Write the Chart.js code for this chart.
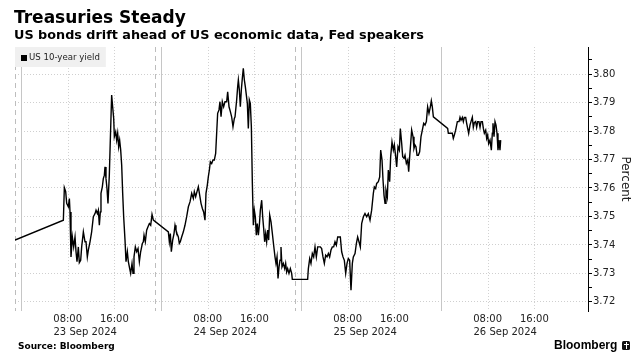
<!DOCTYPE html>
<html><head><meta charset="utf-8">
<script src="https://cdn.jsdelivr.net/npm/chart.js@4.4.1/dist/chart.umd.min.js"></script>
<style>
html,body{margin:0;padding:0;background:#fff;}
#wrap{position:relative;width:639px;height:364px;overflow:hidden;font-family:"DejaVu Sans",sans-serif;color:#000;}
canvas{position:absolute;left:0;top:0;}
.t{position:absolute;white-space:nowrap;}
#logo{position:absolute;left:622px;top:341px;width:8px;height:9px;background:#111;border-radius:1.5px;}
#logo i{position:absolute;background:#fff;}
</style></head><body>
<div id="wrap">
<canvas id="c" width="639" height="364"></canvas>
<div class="t" style="left:14px;top:9px;font-size:17px;line-height:17px;font-weight:bold;">Treasuries Steady</div>
<div class="t" style="left:14px;top:28px;font-size:12.8px;line-height:13px;font-weight:bold;">US bonds drift ahead of US economic data, Fed speakers</div>
<div class="t" style="left:18px;top:342px;font-size:9px;line-height:9px;font-weight:bold;">Source: Bloomberg</div>
<div class="t" style="left:554px;top:339px;font-family:'Liberation Sans',Arial,sans-serif;font-size:12px;line-height:12px;font-weight:bold;">Bloomberg</div>
<div id="logo"><i style="left:3.5px;top:1px;width:1px;height:7px;"></i><i style="left:1.5px;top:3px;width:5px;height:1px;"></i></div>
</div>
<script>
// Hours since 23 Sep 2024 00:00
const times = [
 -1.03, 7.26, 7.43, 7.66, 7.83, 8.11, 8.29, 8.40, 8.57, 8.80,
 9.03, 9.26, 9.43, 9.60, 9.83, 10.00, 10.23, 10.40, 10.69, 10.97,
 11.14, 11.37, 11.54, 11.83, 12.11, 12.40, 12.69, 12.86, 13.09, 13.26,
 13.43, 13.60, 13.71, 13.94, 14.11, 14.29, 14.40, 14.57, 14.74, 14.91,
 15.14, 15.31, 15.54, 15.71, 15.89, 16.00, 16.23, 16.40, 16.57, 16.74,
 16.91, 17.09, 17.26, 17.43, 17.60, 17.83, 18.00, 18.23, 18.40, 18.63,
 18.80, 19.03, 19.20, 19.37, 19.60, 19.83, 20.06, 20.29, 20.51, 20.80,
 20.97, 21.09, 21.31, 21.54, 21.77, 22.00, 22.23, 22.46, 22.69,
 25.26, 25.43, 25.60, 25.77, 26.00, 26.23, 26.40, 26.57, 26.74, 26.97,
 27.14, 27.31, 27.54, 27.83, 28.11, 28.40, 28.69, 28.97, 29.26, 29.54,
 29.71, 29.94, 30.17, 30.40, 30.63, 30.86, 31.09, 31.31, 31.54, 31.71,
 31.94, 32.11, 32.29, 32.46, 32.69, 32.91, 33.14, 33.37, 33.54, 33.71,
 33.94, 34.11, 34.29, 34.51, 34.74, 34.97, 35.26, 35.43, 35.66, 35.89,
 36.11, 36.34, 36.57, 36.69, 36.97, 37.14, 37.26, 37.43, 37.60, 37.77,
 37.94, 38.11, 38.29, 38.46, 38.63, 38.80, 38.97, 39.14, 39.31, 39.49,
 39.66, 39.83, 40.00, 40.17, 40.34, 40.51, 40.69, 40.86, 41.03, 41.26,
 41.43, 41.60, 41.77, 41.94, 42.11, 42.29, 42.46, 42.63, 42.86, 43.09,
 43.31, 43.54, 43.71, 43.89, 44.06, 44.23, 44.40, 44.57, 44.74, 44.97,
 45.20, 45.37, 45.54, 45.71, 45.94, 46.17, 46.40, 46.51, 49.14,
 49.26, 49.49, 49.71, 49.94, 50.17, 50.40, 50.63, 50.86, 51.09, 51.31,
 51.54, 51.77, 52.00, 52.23, 52.46, 52.69, 52.91, 53.14, 53.37, 53.60,
 53.83, 54.06, 54.29, 54.51, 54.74, 54.97, 55.20, 55.43, 55.66, 55.89,
 56.11, 56.34, 56.57, 56.80, 56.97, 57.26, 57.49, 57.71, 57.94, 58.17,
 58.40, 58.69, 58.97, 59.26, 59.54, 59.83, 60.11, 60.40, 60.57, 60.80,
 60.97, 61.26, 61.49, 61.66, 61.89, 62.06, 62.23, 62.40, 62.57, 62.80,
 62.97, 63.20, 63.37, 63.60, 63.83, 64.00, 64.23, 64.40, 64.63, 64.86,
 65.03, 65.26, 65.43, 65.66, 65.83, 66.06, 66.29, 66.46, 66.63, 66.80,
 66.97, 67.20, 67.37, 67.54, 67.71, 67.89, 68.11, 68.34, 68.57, 68.80,
 69.03, 69.26, 69.49, 69.71, 69.94, 70.17, 70.34, 70.51, 70.69,
 73.14, 73.26, 73.94, 74.11, 74.29, 74.51, 74.80, 75.09, 75.26, 75.43,
 75.66, 75.83, 76.00, 76.23, 76.40, 76.57, 76.74, 76.97, 77.14, 77.37,
 77.54, 77.71, 77.94, 78.11, 78.29, 78.51, 78.69, 78.86, 79.09, 79.26,
 79.43, 79.66, 79.83, 80.00, 80.17, 80.40, 80.63, 80.80, 80.91, 81.09,
 81.26, 81.43, 81.60, 81.77, 81.94, 82.11, 82.23
];
const yields = [
 3.7417, 3.7487, 3.7601, 3.7587, 3.7546, 3.7534, 3.7563, 3.7516, 3.7358, 3.7428,
 3.7393, 3.7428, 3.7376, 3.7341, 3.7393, 3.7338, 3.7346, 3.7393, 3.7446, 3.7411,
 3.7411, 3.7358, 3.7382, 3.7411, 3.7446, 3.7499, 3.7510, 3.7522, 3.7510, 3.7522,
 3.7469, 3.7516, 3.7581, 3.7604, 3.7633, 3.7645, 3.7674, 3.7633, 3.7598, 3.7546,
 3.7645, 3.7768, 3.7926, 3.7885, 3.7844, 3.7780, 3.7797, 3.7768, 3.7792, 3.7745,
 3.7768, 3.7733, 3.7680, 3.7581, 3.7499, 3.7417, 3.7341, 3.7376, 3.7341, 3.7317,
 3.7300, 3.7335, 3.7300, 3.7358, 3.7393, 3.7376, 3.7387, 3.7341, 3.7376, 3.7405,
 3.7411, 3.7434, 3.7411, 3.7452, 3.7464, 3.7475, 3.7469, 3.7507, 3.7487,
 3.7446, 3.7411, 3.7440, 3.7376, 3.7417, 3.7440, 3.7469, 3.7452, 3.7440, 3.7428,
 3.7405, 3.7411, 3.7428, 3.7446, 3.7469, 3.7499, 3.7534, 3.7551, 3.7581, 3.7563,
 3.7587, 3.7569, 3.7587, 3.7604, 3.7575, 3.7546, 3.7528, 3.7516, 3.7487, 3.7581,
 3.7610, 3.7639, 3.7663, 3.7692, 3.7686, 3.7698, 3.7698, 3.7721, 3.7792, 3.7862,
 3.7874, 3.7903, 3.7850, 3.7903, 3.7885, 3.7903, 3.7903, 3.7938, 3.7885, 3.7868,
 3.7850, 3.7815, 3.7844, 3.7850, 3.7909, 3.7955, 3.7979, 3.7944, 3.7885, 3.7944,
 3.7985, 3.8020, 3.7979, 3.7955, 3.7926, 3.7897, 3.7809, 3.7909, 3.7897, 3.7815,
 3.7616, 3.7469, 3.7522, 3.7499, 3.7434, 3.7475, 3.7434, 3.7469, 3.7522, 3.7557,
 3.7499, 3.7458, 3.7411, 3.7440, 3.7411, 3.7452, 3.7417, 3.7505, 3.7481, 3.7440,
 3.7399, 3.7358, 3.7335, 3.7358, 3.7282, 3.7323, 3.7346, 3.7393, 3.7323, 3.7335,
 3.7317, 3.7335, 3.7305, 3.7317, 3.7300, 3.7317, 3.7300, 3.7279, 3.7279,
 3.7317, 3.7352, 3.7335, 3.7370, 3.7358, 3.7393, 3.7358, 3.7393, 3.7393, 3.7393,
 3.7387, 3.7358, 3.7335, 3.7364, 3.7358, 3.7370, 3.7358, 3.7382, 3.7393, 3.7393,
 3.7411, 3.7399, 3.7428, 3.7428, 3.7428, 3.7376, 3.7358, 3.7346, 3.7300, 3.7335,
 3.7352, 3.7346, 3.7241, 3.7335, 3.7358, 3.7370, 3.7405, 3.7428, 3.7411, 3.7393,
 3.7475, 3.7499, 3.7510, 3.7499, 3.7510, 3.7487, 3.7522, 3.7581, 3.7604, 3.7598,
 3.7616, 3.7622, 3.7639, 3.7733, 3.7698, 3.7628, 3.7575, 3.7546, 3.7592, 3.7569,
 3.7663, 3.7622, 3.7710, 3.7762, 3.7733, 3.7751, 3.7710, 3.7674, 3.7745, 3.7733,
 3.7809, 3.7756, 3.7710, 3.7704, 3.7715, 3.7686, 3.7698, 3.7657, 3.7710, 3.7756,
 3.7803, 3.7780, 3.7739, 3.7751, 3.7745, 3.7715, 3.7715, 3.7727, 3.7780, 3.7803,
 3.7827, 3.7821, 3.7833, 3.7885, 3.7862, 3.7885, 3.7906, 3.7885, 3.7850,
 3.7809, 3.7792, 3.7792, 3.7774, 3.7786, 3.7803, 3.7833, 3.7833, 3.7848, 3.7838,
 3.7848, 3.7833, 3.7848, 3.7848, 3.7827, 3.7809, 3.7792, 3.7821, 3.7833, 3.7848,
 3.7813, 3.7829, 3.7833, 3.7813, 3.7833, 3.7833, 3.7813, 3.7833, 3.7833, 3.7809,
 3.7792, 3.7803, 3.7774, 3.7786, 3.7756, 3.7768, 3.7733, 3.7792, 3.7827, 3.7780,
 3.7833, 3.7821, 3.7792, 3.7733, 3.7768, 3.7733, 3.7768
];
const seriesName = 'US 10-year yield';
const hourTicks = [8, 16, 32, 40, 56, 64, 80, 88];
const hourLabels = ['08:00', '16:00', '08:00', '16:00', '08:00', '16:00', '08:00', '16:00'];
const dateTicks = [11, 35, 59, 83];
const dateLabels = ['23 Sep 2024', '24 Sep 2024', '25 Sep 2024', '26 Sep 2024'];
const midnightLines = [0, 24, 48, 72];
const sessionLines = [-1, 23, 47];
const yMajorTicks = [3.72, 3.73, 3.74, 3.75, 3.76, 3.77, 3.78, 3.79, 3.80];
const yMinorTicks = [3.725, 3.735, 3.745, 3.755, 3.765, 3.775, 3.785, 3.795, 3.805];
const xMin = -1.03, xMax = 97.2, yMin = 3.7168, yMax = 3.8095;

const FONT = 'DejaVu Sans';
const isMajor = v => yMajorTicks.some(m => Math.abs(m - v) < 1e-6);

const vgrid = {
  id: 'vgrid',
  beforeDatasetsDraw(chart) {
    const {ctx, chartArea: {top, bottom}, scales: {x}} = chart;
    ctx.save();
    ctx.lineWidth = 1;
    const line = (v, color, dash) => {
      const px = Math.round(x.getPixelForValue(v)) + 0.5;
      ctx.strokeStyle = color; ctx.setLineDash(dash);
      ctx.beginPath(); ctx.moveTo(px, top); ctx.lineTo(px, bottom); ctx.stroke();
    };
    hourTicks.forEach(v => line(v, '#d2d2d2', [1, 2]));
    midnightLines.forEach(v => line(v, '#c6c6c6', []));
    sessionLines.forEach(v => line(v, '#bdbdbd', [5, 4]));
    ctx.restore();
  },
  afterDatasetsDraw(chart) {
    const {ctx, chartArea: {left, top}} = chart;
    ctx.save();
    ctx.font = '8.6px "' + FONT + '"';
    const w = ctx.measureText(seriesName).width;
    ctx.fillStyle = '#f0f0f0';
    ctx.fillRect(left, top, w + 20, 20);
    ctx.fillStyle = '#000';
    ctx.fillRect(left + 6, top + 8, 6, 6);
    ctx.fillStyle = '#222';
    ctx.textBaseline = 'middle';
    ctx.fillText(seriesName, left + 14, top + 11);
    ctx.restore();
  }
};

new Chart(document.getElementById('c'), {
  type: 'line',
  data: {
    datasets: [{
      label: seriesName,
      data: times.map((t, i) => ({x: t, y: yields[i]})),
      borderColor: '#000', borderWidth: 1.4, pointRadius: 0, tension: 0, fill: false
    }]
  },
  options: {
    responsive: false, animation: false, devicePixelRatio: 1,
    layout: {padding: {left: 15, top: 47, right: 0, bottom: 0}},
    plugins: {legend: {display: false}, tooltip: {enabled: false}},
    scales: {
      x: {
        type: 'linear', position: 'bottom', min: xMin, max: xMax,
        grid: {display: false, drawTicks: false}, border: {display: false},
        afterBuildTicks: s => { s.ticks = hourTicks.map(v => ({value: v})); },
        ticks: {autoSkip: false, maxRotation: 0, padding: 2, color: '#222',
          font: {family: FONT, size: 10}, callback: (v, i) => hourLabels[i]},
        afterFit: s => { s.height = 14; }
      },
      x2: {
        type: 'linear', position: 'bottom', min: xMin, max: xMax,
        grid: {display: false, drawTicks: false}, border: {display: false},
        afterBuildTicks: s => { s.ticks = dateTicks.map(v => ({value: v})); },
        ticks: {autoSkip: false, maxRotation: 0, padding: 1.5, color: '#222',
          font: {family: FONT, size: 10}, callback: (v, i) => dateLabels[i]},
        afterFit: s => { s.height = 39; }
      },
      y: {
        type: 'linear', position: 'right', min: yMin, max: yMax,
        afterBuildTicks: s => { s.ticks = yMajorTicks.concat(yMinorTicks).sort((a, b) => a - b).map(v => ({value: v})); },
        grid: {
          color: c => (c.tick && isMajor(c.tick.value)) ? '#cfcfcf' : 'rgba(0,0,0,0)',
          tickColor: '#000', tickLength: 4, lineWidth: 1
        },
        border: {display: true, color: '#000', width: 1, dash: [1, 2]},
        ticks: {padding: 1, color: '#222', autoSkip: false,
          font: {family: FONT, size: 10},
          callback: v => isMajor(v) ? v.toFixed(2) : ''},
        title: {display: true, text: 'Percent', color: '#222',
          font: {family: FONT, size: 12}, padding: {top: 7, bottom: 0}},
        afterFit: s => { s.width = 51; }
      }
    }
  },
  plugins: [vgrid]
});
</script>
</body></html>
